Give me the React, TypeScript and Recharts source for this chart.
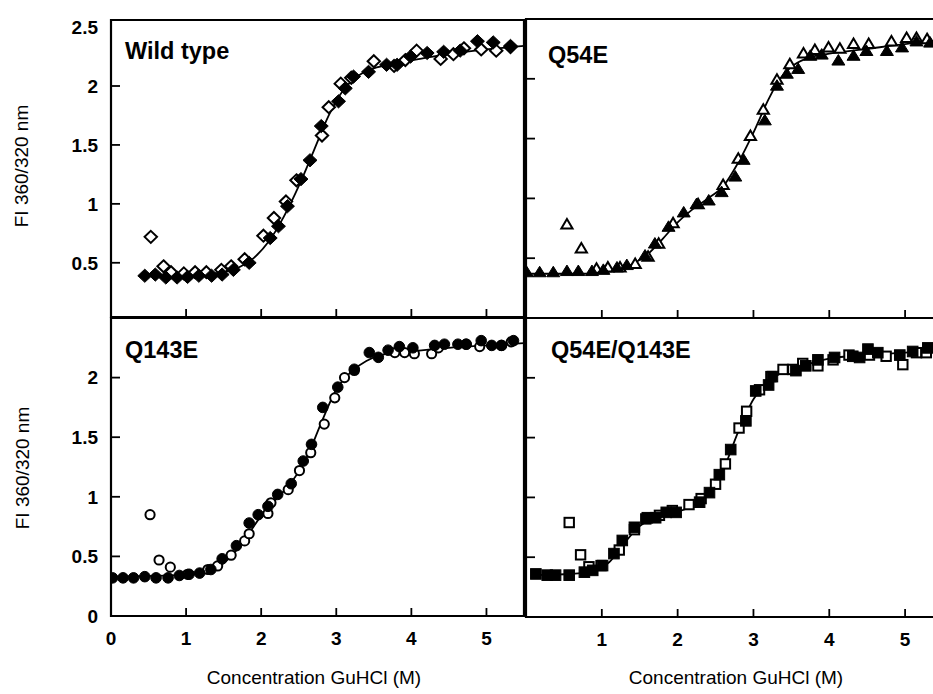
import React from 'react';
import { ComposedChart, Line, Scatter, XAxis, YAxis, ReferenceArea } from 'recharts';

const FONT = '"Liberation Sans", Arial, Helvetica, sans-serif';

// ---------- axis ticks ----------
const xTicksAll = [0, 1, 2, 3, 4, 5];
const xTicksNoZero = [1, 2, 3, 4, 5];
const yTicksTop = [0.5, 1, 1.5, 2, 2.5];
const yTicksBottom = [0, 0.5, 1, 1.5, 2];
const yTicksRight = [0.5, 1, 1.5, 2];

// ---------- titles ----------
const panelTitles = ['Wild type', 'Q54E', 'Q143E', 'Q54E/Q143E'];
const yTitle = 'FI 360/320 nm';
const xTitle = 'Concentration GuHCl (M)';

// ---------- Wild type (diamonds) ----------
const wtFilled: [number, number][] = [
  [0.45, 0.39], [0.59, 0.4], [0.73, 0.375], [0.88, 0.375], [1.02, 0.38], [1.17, 0.39],
  [1.34, 0.39], [1.48, 0.4], [1.63, 0.44], [1.84, 0.5], [2.12, 0.71], [2.23, 0.81],
  [2.35, 0.98], [2.53, 1.21], [2.65, 1.37], [2.8, 1.66], [3.03, 1.87], [3.12, 1.98],
  [3.23, 2.08], [3.43, 2.12], [3.67, 2.18], [3.81, 2.18], [3.99, 2.25], [4.21, 2.28],
  [4.43, 2.29], [4.65, 2.3], [4.88, 2.38], [5.09, 2.37], [5.32, 2.34],
];
const wtOpen: [number, number][] = [
  [0.53, 0.72], [0.7, 0.47], [0.8, 0.42], [0.97, 0.41], [1.12, 0.42], [1.27, 0.42],
  [1.47, 0.44], [1.6, 0.47], [1.78, 0.53], [2.03, 0.73], [2.17, 0.88], [2.33, 1.02],
  [2.47, 1.2], [2.81, 1.58], [2.9, 1.82], [3.06, 2.02], [3.2, 2.07], [3.5, 2.21],
  [3.77, 2.17], [3.92, 2.22], [4.07, 2.3], [4.39, 2.23], [4.56, 2.27], [4.7, 2.32],
  [4.93, 2.31], [5.13, 2.3], [5.32, 2.33],
];
const wtFit: [number, number][] = [
  [0.45, 0.39], [0.8, 0.39], [1.2, 0.4], [1.5, 0.42], [1.7, 0.46], [1.9, 0.54], [2.1, 0.68],
  [2.3, 0.89], [2.5, 1.15], [2.7, 1.45], [2.9, 1.75], [3.1, 1.97], [3.3, 2.09], [3.5, 2.15],
  [3.8, 2.19], [4.2, 2.24], [4.6, 2.28], [5.0, 2.31], [5.5, 2.34],
];

// ---------- Q54E (triangles) ----------
const q54Filled: [number, number][] = [
  [0.01, 0.38], [0.18, 0.38], [0.36, 0.38], [0.54, 0.39], [0.69, 0.39], [0.87, 0.39],
  [1.02, 0.4], [1.2, 0.42], [1.33, 0.44], [1.57, 0.52], [1.7, 0.62], [1.88, 0.76],
  [2.08, 0.88], [2.25, 0.95], [2.41, 0.98], [2.58, 1.05], [2.76, 1.18], [2.87, 1.32],
  [3.15, 1.65], [3.31, 1.94], [3.44, 2.04], [3.59, 2.08], [3.75, 2.19], [3.9, 2.2],
  [4.12, 2.15], [4.32, 2.19], [4.49, 2.23], [4.76, 2.23], [4.96, 2.26], [5.15, 2.31],
  [5.33, 2.3],
];
const q54Open: [number, number][] = [
  [0.54, 0.78], [0.73, 0.58], [0.93, 0.41], [1.08, 0.42], [1.24, 0.42], [1.44, 0.45],
  [1.61, 0.51], [1.75, 0.62], [1.94, 0.79], [2.27, 0.95], [2.6, 1.11], [2.8, 1.33],
  [2.96, 1.52], [3.13, 1.74], [3.31, 1.99], [3.48, 2.12], [3.66, 2.21], [3.81, 2.24],
  [3.99, 2.26], [4.14, 2.25], [4.32, 2.29], [4.52, 2.29], [4.82, 2.31], [5.02, 2.34],
  [5.15, 2.34], [5.29, 2.33],
];
const q54Fit: [number, number][] = [
  [0, 0.37], [0.6, 0.37], [1.0, 0.38], [1.2, 0.4], [1.4, 0.45], [1.6, 0.53], [1.8, 0.66],
  [2.0, 0.8], [2.2, 0.91], [2.4, 1.0], [2.6, 1.1], [2.8, 1.3], [3.0, 1.55], [3.2, 1.83],
  [3.35, 2.0], [3.5, 2.1], [3.7, 2.17], [4.0, 2.21], [4.5, 2.25], [5.0, 2.29], [5.5, 2.32],
];

// ---------- Q143E (circles) ----------
const q143Filled: [number, number][] = [
  [0.02, 0.32], [0.16, 0.32], [0.3, 0.32], [0.45, 0.33], [0.6, 0.32], [0.76, 0.32],
  [0.91, 0.34], [1.04, 0.35], [1.18, 0.36], [1.33, 0.39], [1.48, 0.48], [1.67, 0.59],
  [1.84, 0.78], [1.96, 0.85], [2.09, 0.92], [2.22, 1.02], [2.4, 1.11], [2.56, 1.3],
  [2.67, 1.44], [2.82, 1.75], [3.02, 1.92], [3.24, 2.07], [3.44, 2.21], [3.56, 2.17],
  [3.69, 2.23], [3.84, 2.26], [4.02, 2.25], [4.31, 2.27], [4.44, 2.28], [4.62, 2.28],
  [4.73, 2.28], [4.93, 2.31], [5.07, 2.27], [5.2, 2.27], [5.36, 2.31],
];
const q143Open: [number, number][] = [
  [0.52, 0.85], [0.64, 0.47], [0.79, 0.41], [1.02, 0.35], [1.29, 0.39], [1.42, 0.42],
  [1.6, 0.51], [1.78, 0.63], [1.84, 0.69], [2.09, 0.86], [2.13, 0.95], [2.36, 1.06],
  [2.51, 1.22], [2.66, 1.37], [2.84, 1.61], [2.98, 1.83], [3.11, 2.0], [3.24, 2.06],
  [3.78, 2.21], [3.91, 2.21], [4.04, 2.2], [4.27, 2.2], [4.36, 2.25], [4.73, 2.28],
  [4.91, 2.26], [5.2, 2.27], [5.33, 2.3],
];
const q143Fit: [number, number][] = [
  [0, 0.33], [0.8, 0.34], [1.2, 0.36], [1.4, 0.4], [1.6, 0.5], [1.8, 0.66], [2.0, 0.84],
  [2.2, 0.98], [2.4, 1.12], [2.6, 1.32], [2.8, 1.62], [3.0, 1.9], [3.2, 2.05], [3.4, 2.14],
  [3.6, 2.19], [4.0, 2.22], [4.5, 2.25], [5.0, 2.27], [5.5, 2.29],
];

// ---------- Q54E/Q143E (squares) ----------
const dblFilled: [number, number][] = [
  [0.13, 0.36], [0.28, 0.35], [0.39, 0.35], [0.57, 0.35], [0.77, 0.375], [0.88, 0.39],
  [1.01, 0.43], [1.16, 0.53], [1.27, 0.64], [1.43, 0.75], [1.6, 0.83], [1.71, 0.83],
  [1.85, 0.875], [1.98, 0.875], [2.29, 0.96], [2.42, 1.04], [2.55, 1.19], [2.7, 1.4],
  [2.9, 1.64], [3.03, 1.89], [3.2, 1.94], [3.25, 2.01], [3.56, 2.06], [3.69, 2.1],
  [3.85, 2.15], [4.07, 2.17], [4.31, 2.18], [4.4, 2.17], [4.51, 2.24], [4.64, 2.21],
  [4.93, 2.19], [5.1, 2.22], [5.3, 2.25],
];
const dblOpen: [number, number][] = [
  [0.57, 0.79], [0.72, 0.52], [0.83, 0.42], [0.99, 0.43], [1.23, 0.56], [1.43, 0.73],
  [1.58, 0.82], [1.76, 0.85], [1.93, 0.89], [2.15, 0.94], [2.31, 0.99], [2.5, 1.11],
  [2.63, 1.28], [2.81, 1.58], [2.91, 1.72], [3.08, 1.9], [3.23, 2.01], [3.39, 2.07],
  [3.52, 2.07], [3.65, 2.12], [3.85, 2.1], [4.05, 2.15], [4.26, 2.19], [4.53, 2.19],
  [4.75, 2.18], [4.97, 2.11], [5.15, 2.21], [5.28, 2.21],
];
const dblFit: [number, number][] = [
  [0.1, 0.35], [0.6, 0.36], [0.9, 0.39], [1.1, 0.46], [1.3, 0.62], [1.5, 0.76], [1.7, 0.83],
  [2.0, 0.88], [2.2, 0.93], [2.4, 1.03], [2.6, 1.23], [2.8, 1.55], [3.0, 1.82], [3.2, 1.97],
  [3.4, 2.05], [3.7, 2.11], [4.0, 2.16], [4.5, 2.19], [5.0, 2.21], [5.5, 2.23],
];

const toPts = (a: [number, number][]) => a.map(([x, y]) => ({ x, y }));

// ---------- marker shapes ----------
type ShapeKind = 'diamond' | 'triangle' | 'circle' | 'square';
const makeShape = (kind: ShapeKind, filled: boolean) => (props: any) => {
  const { cx, cy } = props;
  if (cx == null || cy == null) return <g />;
  const fill = filled ? '#000' : '#fff';
  const sw = filled ? 1 : 2;
  if (kind === 'diamond') {
    const w = filled ? 7 : 6.2, h = filled ? 6.6 : 6;
    return <path d={`M${cx},${cy - h}L${cx + w},${cy}L${cx},${cy + h}L${cx - w},${cy}Z`} fill={fill} stroke="#000" strokeWidth={sw} />;
  }
  if (kind === 'triangle') {
    const w = filled ? 6.5 : 5.6, h = filled ? 10.5 : 9.5;
    return <path d={`M${cx},${cy - h * 0.6}L${cx + w},${cy + h * 0.4}L${cx - w},${cy + h * 0.4}Z`} fill={fill} stroke="#000" strokeWidth={sw} />;
  }
  if (kind === 'circle') {
    return <circle cx={cx} cy={cy} r={filled ? 5.3 : 4.6} fill={fill} stroke="#000" strokeWidth={sw} />;
  }
  const s = filled ? 5.3 : 4.7;
  return <rect x={cx - s} y={cy - s} width={2 * s} height={2 * s} fill={fill} stroke="#000" strokeWidth={sw} />;
};

// ---------- ticks (inward, SigmaPlot style) ----------
const makeYTick = (showLabel: boolean, noLine: number[]) => (props: any) => {
  const { x, y, payload } = props;
  const v = payload.value;
  return (
    <g>
      {!noLine.includes(v) && <line x1={x} x2={x + 9} y1={y} y2={y} stroke="#000" strokeWidth={1.8} />}
      {showLabel && (
        <text x={x - 13} y={y} dy="0.36em" textAnchor="end" fontFamily={FONT} fontWeight="bold" fontSize={19} fill="#000">
          {String(v)}
        </text>
      )}
    </g>
  );
};
const makeXTick = (showLabel: boolean) => (props: any) => {
  const { x, y, payload } = props;
  const v = payload.value;
  return (
    <g>
      {v !== 0 && <line x1={x} x2={x} y1={y} y2={y - 8} stroke="#000" strokeWidth={1.8} />}
      {showLabel && (
        <text x={x} y={y + 29} textAnchor="middle" fontFamily={FONT} fontWeight="bold" fontSize={19} fill="#000">
          {String(v)}
        </text>
      )}
    </g>
  );
};

type PanelProps = {
  chartWidth: number;
  plotLeft: number;
  plotRight: number;
  plotTop: number;
  plotBottom: number;
  yDomain: [number, number];
  yTicks: number[];
  yLabels: boolean;
  xTicks: number[];
  xLabels: boolean;
  fit: [number, number][];
  filled: [number, number][];
  open: [number, number][];
  kind: ShapeKind;
  noYLine: number[];
};

const H = 694;
const AXW = 40;

const Panel = (p: PanelProps) => (
  <div style={{ position: 'absolute', left: 0, top: 0 }}>
    <ComposedChart
      width={p.chartWidth}
      height={H}
      margin={{ left: p.plotLeft - AXW, right: p.chartWidth - p.plotRight, top: p.plotTop, bottom: H - p.plotBottom - AXW }}
    >
      <XAxis
        type="number"
        dataKey="x"
        domain={[0, 5.5]}
        allowDataOverflow
        ticks={p.xTicks}
        interval={0}
        height={AXW}
        tickSize={0}
        tickMargin={0}
        axisLine={false}
        tickLine={false}
        tick={makeXTick(p.xLabels)}
      />
      <YAxis
        type="number"
        dataKey="y"
        domain={p.yDomain}
        allowDataOverflow
        ticks={p.yTicks}
        interval={0}
        width={AXW}
        tickSize={0}
        tickMargin={0}
        axisLine={false}
        tickLine={false}
        tick={makeYTick(p.yLabels, p.noYLine)}
      />
      <ReferenceArea
        x1={0}
        x2={5.5}
        y1={p.yDomain[0]}
        y2={p.yDomain[1]}
        fill="none"
        fillOpacity={0}
        stroke="#000"
        strokeWidth={2.2}
        ifOverflow="visible"
      />
      <Line
        data={toPts(p.fit)}
        dataKey="y"
        type="monotone"
        dot={false}
        stroke="#000"
        strokeWidth={1.8}
        isAnimationActive={false}
      />
      <Scatter data={toPts(p.open)} dataKey="y" shape={makeShape(p.kind, false)} isAnimationActive={false} />
      <Scatter data={toPts(p.filled)} dataKey="y" shape={makeShape(p.kind, true)} isAnimationActive={false} />
    </ComposedChart>
  </div>
);

export default function App() {
  return (
    <div style={{ position: 'absolute', left: 0, top: 0, width: 933, height: H, overflow: 'hidden', background: '#fff' }}>
      <Panel chartWidth={933} plotLeft={111} plotRight={524} plotTop={20} plotBottom={317}
        yDomain={[0.04, 2.56]} yTicks={yTicksTop} yLabels xTicks={xTicksNoZero} xLabels={false}
        fit={wtFit} filled={wtFilled} open={wtOpen} kind="diamond" noYLine={[2.5]} />
      <Panel chartWidth={960} plotLeft={526} plotRight={943} plotTop={19} plotBottom={318}
        yDomain={[0, 2.5]} yTicks={yTicksRight} yLabels={false} xTicks={xTicksNoZero} xLabels={false}
        fit={q54Fit} filled={q54Filled} open={q54Open} kind="triangle" noYLine={[]} />
      <Panel chartWidth={933} plotLeft={111} plotRight={524} plotTop={318} plotBottom={616}
        yDomain={[0, 2.5]} yTicks={yTicksBottom} yLabels xTicks={xTicksAll} xLabels
        fit={q143Fit} filled={q143Filled} open={q143Open} kind="circle" noYLine={[0]} />
      <Panel chartWidth={960} plotLeft={526} plotRight={943} plotTop={318} plotBottom={617}
        yDomain={[0, 2.5]} yTicks={yTicksRight} yLabels={false} xTicks={xTicksNoZero} xLabels
        fit={dblFit} filled={dblFilled} open={dblOpen} kind="square" noYLine={[]} />
      <svg width={933} height={H} style={{ position: 'absolute', left: 0, top: 0, pointerEvents: 'none' }}>
        <g fontFamily={FONT} fill="#000">
          <text x={125} y={59} fontSize={23.5} fontWeight="bold">{panelTitles[0]}</text>
          <text x={548} y={63} fontSize={23.5} fontWeight="bold">{panelTitles[1]}</text>
          <text x={125} y={358} fontSize={23.5} fontWeight="bold">{panelTitles[2]}</text>
          <text x={551} y={358} fontSize={23.5} fontWeight="bold">{panelTitles[3]}</text>
          <text x={0} y={0} fontSize={19} textAnchor="middle" transform="translate(28,166) rotate(-90)">{yTitle}</text>
          <text x={0} y={0} fontSize={19} textAnchor="middle" transform="translate(29,468) rotate(-90)">{yTitle}</text>
          <text x={314} y={684} fontSize={19} textAnchor="middle">{xTitle}</text>
          <text x={736} y={684} fontSize={19} textAnchor="middle">{xTitle}</text>
        </g>
      </svg>
    </div>
  );
}
